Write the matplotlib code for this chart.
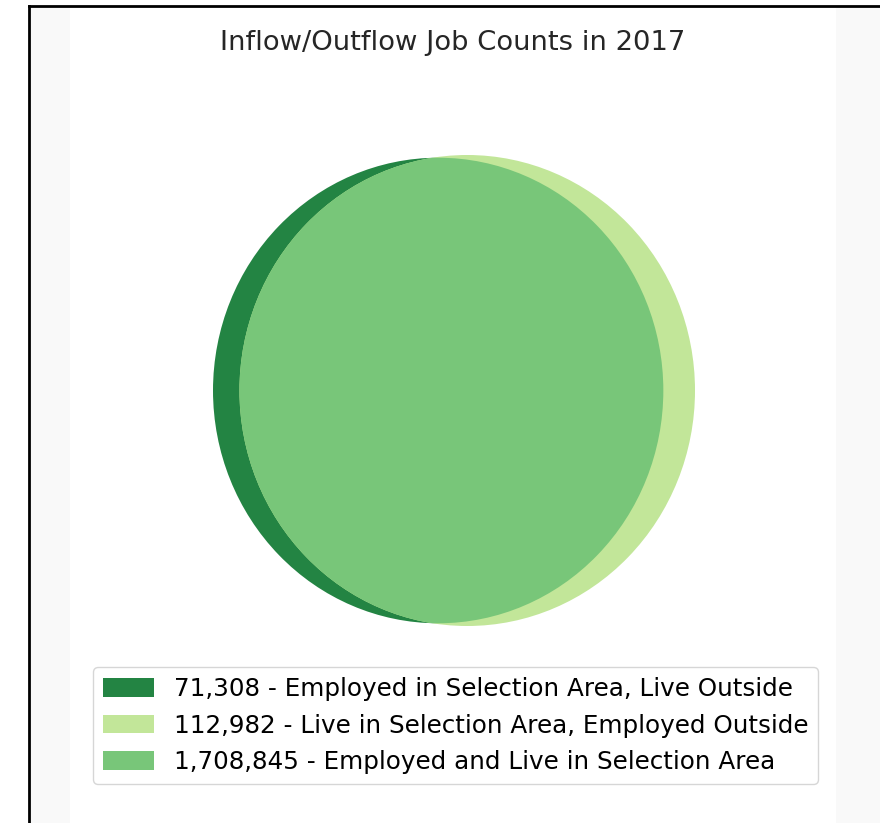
import numpy as np
import matplotlib.pyplot as plt
from matplotlib.patches import Circle, Patch, Rectangle
from matplotlib.lines import Line2D

# job counts (Venn subsets)
only_work = 71308      # employed in area, live outside
only_live = 112982     # live in area, employed outside
both = 1708845         # employed and live in area

labels = ["Employed in Selection Area, Live Outside",
          "Live in Selection Area, Employed Outside",
          "Employed and Live in Selection Area"]
counts = [only_work, only_live, both]
colors = ["#238443", "#c2e699", "#78c679"]

# circle radii from areas; centre offset as drawn in the original
rA = np.sqrt((only_work + both) / np.pi)
rB = np.sqrt((only_live + both) / np.pi)
d = 0.129 * rA

W, H = 880, 823
fig = plt.figure(figsize=(W / 100, H / 100), dpi=100)

# screenshot frame / background
fig.patches.append(Rectangle((29 / W, 0), 1, 1 - 7 / H, transform=fig.transFigure,
                             facecolor="#f9f9f9", edgecolor="none", zorder=-3))
fig.patches.append(Rectangle((70 / W, 0), (836 - 70) / W, 1 - 7 / H, transform=fig.transFigure,
                             facecolor="white", edgecolor="none", zorder=-2))
fig.lines.append(Line2D([28.5 / W, 28.5 / W], [0, 1 - 6 / H], transform=fig.transFigure,
                        color="black", lw=2))
fig.lines.append(Line2D([28.5 / W, 1], [1 - 6 / H, 1 - 6 / H], transform=fig.transFigure,
                        color="black", lw=2))

ax = fig.add_axes([0, 0, 1, 1])
ax.set_axis_off()
ax.patch.set_alpha(0)

# pixel scale
left_px, right_px = 213, 695
sx = (right_px - left_px) / (rA + d + rB)
sy = 471 / (2 * rB)
cx_px = left_px + rA * sx
cy_px = H - 390.5
ax.set_xlim(-cx_px / sx, (W - cx_px) / sx)
ax.set_ylim(-cy_px / sy, (H - cy_px) / sy)

cA = Circle((0, 0), rA, facecolor=colors[0], edgecolor="none")
cB = Circle((d, 0), rB, facecolor=colors[1], edgecolor="none")
ax.add_patch(cA)
ax.add_patch(cB)
inter = Circle((0, 0), rA, facecolor=colors[2], edgecolor="none")
ax.add_patch(inter)
inter.set_clip_path(cB)

fig.text(453 / W, 1 - 43 / H, "Inflow/Outflow Job Counts in 2017",
         ha="center", va="center", fontsize=19.7, color="#262626")

handles = [Patch(facecolor=c) for c in colors]
texts = ["{:,} - {}".format(n, l) for n, l in zip(counts, labels)]
fig.legend(handles, texts, loc="center", bbox_to_anchor=(455.5 / W, 1 - 725.5 / H),
           fontsize=17.7, handlelength=2.1, handleheight=0.8, frameon=True)

fig.savefig("out.png", dpi=100)
